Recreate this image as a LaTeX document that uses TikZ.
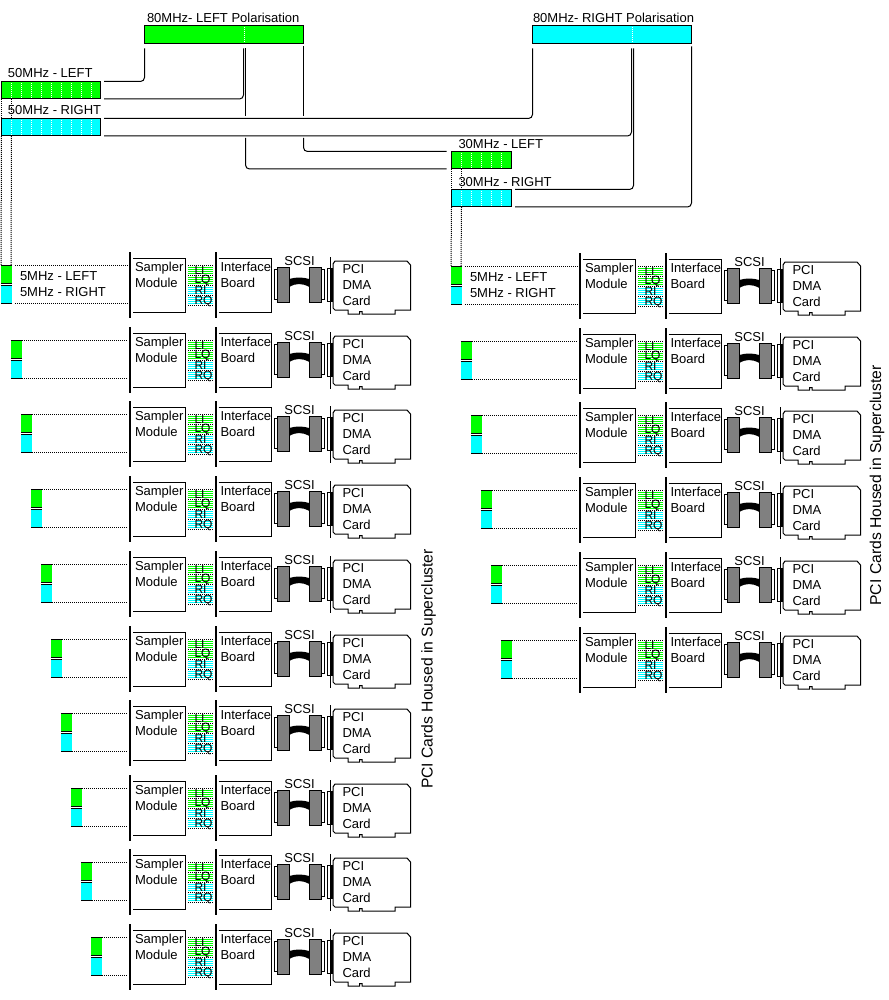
\documentclass[tikz,border=0pt]{standalone}
\usepackage{fontspec}
\setmainfont{Liberation Sans}
\usetikzlibrary{calc}
\definecolor{sigl}{HTML}{00FF00}
\definecolor{sigr}{HTML}{00FFFF}
\definecolor{conn}{HTML}{808080}
\tikzset{
  wire/.style={line width=1pt, rounded corners=4pt},
  dots/.style={line width=1pt, dash pattern=on 1pt off 1pt},
  wdots/.style={dots, white},
  bar/.style={line width=2pt},
  fine/.style={line width=1pt},
  band/.style={draw, line width=1pt, anchor=north west, inner sep=0pt, outer sep=0pt},
  lbl/.style={inner sep=0pt, outer sep=0pt, font=\fontsize{13}{16}\selectfont, align=left, anchor=west},
  sig/.style={lbl, font=\fontsize{12}{12}\selectfont},
  mini/.style={anchor=north west, inner sep=0pt, outer sep=0pt, minimum width=10.5pt, minimum height=17.5pt}
}
\newcommand{\ticks}[2]{\foreach \k in {1,...,#2} {\draw[wdots] ($(#1.north west)+(10*\k,1.5)$) -- ($(#1.south west)+(10*\k,-1)$);}}
\newcommand{\cardrow}[4]{
	\begin{scope}[shift={(#2,#3)}, name prefix=#1-]
		\pgfmathsetmacro{\mx}{1+10*#4}
		\pgfmathsetmacro{\gapx}{#4==0 ? 3.5 : 0.5}
		\node[mini, fill=sigl] (g) at (\mx,13.5) {};
		\node[mini, fill=sigr] (c) at (\mx,33.5) {};
		\draw[fine] (g.north west) -- (g.north east);
		\draw[fine] (g.south west) -- (g.south east);
		\draw[fine] (c.north west) -- (c.north east);
		\draw[fine] (c.south west) -- (c.south east);
		\coordinate (gend) at (128,13.5);
		\coordinate (cend) at (128,51);
		\draw[dots] ($(g.north east)+(\gapx,0)$) -- (gend);
		\draw[dots] ($(c.south east)+(\gapx,0)$) -- (cend);
		\draw[bar] (130.3,0) -- (130.3,66);
		\draw[fine] (133,6.5) -| (185.5,60) -- (133,60);
		\node[lbl, anchor=north west] (samp) at (135,10.5) {Sampler\\Module};
		\foreach \g/\gc in {0/sigl,10/sigl,20/sigr,30/sigr} {
			\foreach \s in {15.5,17.5,19.5,21.5} {\draw[fine, color=\gc] (188,\s+\g) -- (213,\s+\g);}
		}
		\foreach \g in {13.5,23.5,33.5,43.5,53.5} {\draw[dots] (188,\g) -- (213,\g);}
		\node[sig] (li) at (194.5,18) {LI};
		\node[sig] (lq) at (194.5,28) {LQ};
		\node[sig] (ri) at (194.5,38) {RI};
		\node[sig] (rq) at (194.5,49) {RQ};
		\draw[bar] (216,0) -- (216,66);
		\draw[fine] (218.5,6.5) -| (271.7,60) -- (218.5,60);
		\node[lbl, anchor=north west] (ifb) at (220.5,10.5) {Interface\\Board};
		\node[lbl, anchor=center] (scsi) at (299.5,9) {SCSI};
		\draw[fine] (277,17.5) -| (274.5,47.5) -- (277,47.5);
		\draw[fine] (322,17.5) -| (324.5,47.5) -- (322,47.5);
		\draw[fine, fill=conn] (277,15.5) rectangle (289.3,50);
		\draw[fine, fill=conn] (309.3,15.5) rectangle (321.7,50);
		\fill (289.3,27) .. controls (296,25) and (302,25) .. (309.3,27) -- (309.3,35) .. controls (302,31) and (296,31) .. (289.3,35) -- cycle;
		\draw[fine] (330.7,5) -- (330.7,62);
		\draw[fine] (330.7,16.5) -| (327.5,49.5) -- (330.7,49.5);
		\draw[bar] (332,15.5) -- (332,50);
		\draw[fine] (333,12) -- (335,9) -- (407,9) -- (410.5,13) -- (410.5,58) -- (395,58) -- (395,62) -- (362,62) -- (362,59.5) -- (359.5,59.5) -- (359.5,62) -- (348,62) -- (348,58) -- (335,58) -- (333,56) -- cycle;
		\node[lbl, anchor=north west] (pci) at (342.5,12.5) {PCI\\DMA\\Card};
	\end{scope}
}

\begin{document}
\begin{tikzpicture}[x=1pt, y=-1pt]
	\useasboundingbox (0,0) rectangle (888,1000);
	\node[band, fill=sigl, minimum width=159pt, minimum height=18pt] (l80) at (144.5,25.5) {};
	\node[band, fill=sigr, minimum width=159pt, minimum height=18pt] (r80) at (532.5,25.5) {};
	\node[band, fill=sigl, minimum width=99pt, minimum height=17.5pt] (l50) at (1.5,81.5) {};
	\node[band, fill=sigr, minimum width=99pt, minimum height=17.5pt] (r50) at (1.5,118.5) {};
	\node[band, fill=sigl, minimum width=59.5pt, minimum height=17.5pt] (l30) at (451.5,151.5) {};
	\node[band, fill=sigr, minimum width=59.5pt, minimum height=17.5pt] (r30) at (451.5,189.5) {};
	\ticks{l50}{9}
	\ticks{r50}{9}
	\ticks{l30}{5}
	\ticks{r30}{5}
	\draw[wdots] ($(l80.north west)+(100,1.5)$) -- ($(l80.south west)+(100,-1)$);
	\draw[wdots] ($(r80.north west)+(100,1.5)$) -- ($(r80.south west)+(100,-1)$);
	\node[lbl] (l80lab) at (147,18) {80MHz- LEFT Polarisation};
	\node[lbl] (r80lab) at (533,18) {80MHz- RIGHT Polarisation};
	\node[lbl] (l50lab) at (8,73) {50MHz - LEFT};
	\node[lbl] (r50lab) at (8,110) {50MHz - RIGHT};
	\node[lbl] (l30lab) at (458.5,144) {30MHz - LEFT};
	\node[lbl] (r30lab) at (458.5,182) {30MHz - RIGHT};
	\draw[wire] ($(l80.south west)+(0,5)$) |- ($(l50.north east)+(3.5,0)$);
	\draw[wire] ($(l80.south west)+(99,5)$) |- ($(l50.south east)+(3.5,0)$);
	\draw[wire] ($(l80.south west)+(101,5)$) -- ($(r50.north west)+(244,-2)$);
	\draw[wire] ($(r50.south west)+(244,2)$) |- ($(l30.south west)+(-5,0)$);
	\draw[wire] ($(l80.south east)+(0,3)$) -- ($(r50.north west)+(302,-2)$);
	\draw[wire] ($(r50.south west)+(302,2)$) |- ($(l30.north west)+(-5,0)$);
	\draw[wire] ($(r50.north east)+(3.5,0)$) -| ($(r80.south west)+(0,5)$);
	\draw[wire] ($(r50.south east)+(3.5,0)$) -| ($(r80.south west)+(99,5)$);
	\draw[wire] ($(r30.north east)+(4,0)$) -| ($(r80.south west)+(101,5)$);
	\draw[wire] ($(r30.south east)+(4,0)$) -| ($(r80.south east)+(0,3)$);
	\foreach \t [count=\n from 0] in {252,327,401,476,551,626,700,775,849,924} {\cardrow{L\n}{0}{\t}{\n}}
	\foreach \t [count=\n from 0] in {253,328,402,477,552,627} {\cardrow{R\n}{450}{\t}{\n}}
	\draw[dots] (l50.south west) -- (r50.north west);
	\draw[dots] ($(l50.south west)+(10,0)$) -- ($(r50.north west)+(10,0)$);
	\draw[dots] (r50.south west) -- (L0-g.north west);
	\draw[dots] ($(r50.south west)+(10,0)$) -- ($(L0-g.north west)+(10,0)$);
	\draw[dots] (l30.south west) -- (r30.north west);
	\draw[dots] ($(l30.south west)+(10,0)$) -- ($(r30.north west)+(10,0)$);
	\draw[dots] (r30.south west) -- (R0-g.north west);
	\draw[dots] ($(r30.south west)+(10,0)$) -- ($(R0-g.north west)+(10,0)$);
	\node[lbl] (l5a) at (20,276) {5MHz - LEFT};
	\node[lbl] (l5b) at (20,292) {5MHz - RIGHT};
	\node[lbl] (r5a) at (470,277) {5MHz - LEFT};
	\node[lbl] (r5b) at (470,293) {5MHz - RIGHT};
	\node[lbl, font=\fontsize{15.7}{16}\selectfont, rotate=90, anchor=center] (lsup) at (428.5,669) {PCI Cards Housed in Supercluster};
	\node[lbl, font=\fontsize{15.7}{16}\selectfont, rotate=90, anchor=center] (rsup) at (877,485.5) {PCI Cards Housed in Supercluster};
\end{tikzpicture}
\end{document}
